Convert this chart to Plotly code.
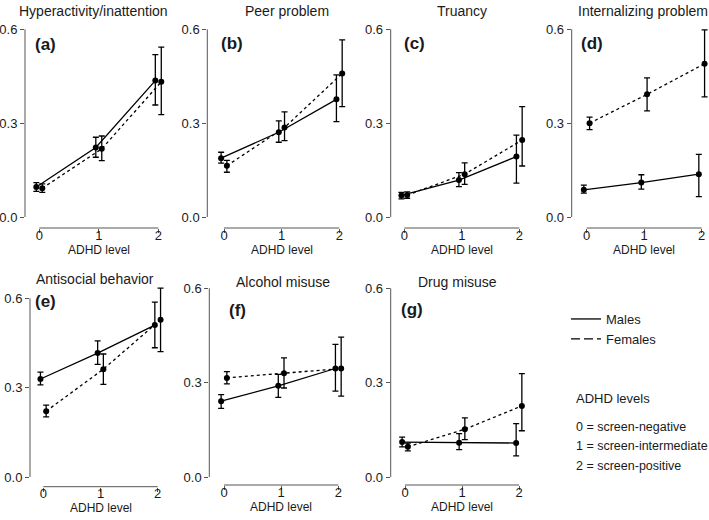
import plotly.graph_objects as go

W, H = 709, 520

# ---------------- data ----------------
levels = [0, 1, 2]
level_ticks = ["0", "1", "2"]
y_ticks = [0.0, 0.3, 0.6]
y_tick_labels = ["0.0", "0.3", "0.6"]

outcomes = ["Hyperactivity/inattention", "Peer problem", "Truancy", "Internalizing problem",
            "Antisocial behavior", "Alcohol misuse", "Drug misuse"]
tags = ["(a)", "(b)", "(c)", "(d)", "(e)", "(f)", "(g)"]

males_est = [[0.096, 0.222, 0.436], [0.188, 0.271, 0.376], [0.069, 0.118, 0.193],
             [0.087, 0.110, 0.137], [0.329, 0.416, 0.510], [0.241, 0.290, 0.345],
             [0.111, 0.109, 0.108]]
males_lo = [[0.082, 0.191, 0.358], [0.172, 0.239, 0.305], [0.058, 0.097, 0.108],
            [0.076, 0.089, 0.065], [0.309, 0.378, 0.434], [0.218, 0.253, 0.273],
            [0.096, 0.087, 0.067]]
males_hi = [[0.110, 0.255, 0.519], [0.207, 0.307, 0.454], [0.079, 0.142, 0.262],
            [0.102, 0.135, 0.200], [0.352, 0.457, 0.587], [0.262, 0.326, 0.422],
            [0.127, 0.138, 0.170]]
females_est = [[0.092, 0.218, 0.432], [0.164, 0.286, 0.459], [0.070, 0.137, 0.246],
               [0.300, 0.392, 0.490], [0.221, 0.362, 0.528], [0.315, 0.330, 0.345],
               [0.096, 0.152, 0.226]]
females_lo = [[0.079, 0.180, 0.327], [0.143, 0.244, 0.353], [0.060, 0.104, 0.163],
              [0.279, 0.339, 0.384], [0.202, 0.311, 0.421], [0.296, 0.283, 0.257],
              [0.083, 0.119, 0.147]]
females_hi = [[0.106, 0.259, 0.543], [0.181, 0.336, 0.566], [0.080, 0.173, 0.353],
              [0.319, 0.445, 0.598], [0.241, 0.413, 0.634], [0.335, 0.379, 0.445],
              [0.108, 0.188, 0.329]]

legend_labels = ["Males", "Females"]
level_notes = ["0 = screen-negative", "1 = screen-intermediate", "2 = screen-positive"]

# ---------------- layout geometry (pixels) ----------------
# yl: y-axis line x; x0/x2: pixel of x=0 / x=2; y0/y6: pixel of y=0 / 0.6; xb: x-axis line y
geom = [
    dict(yl=25.0, x0=39.3, x2=158.3, y0=217.0, y6=29.3, xb=228.0),
    dict(yl=207.3, x0=224.0, x2=339.3, y0=217.0, y6=29.3, xb=228.0),
    dict(yl=390.7, x0=404.3, x2=519.3, y0=217.0, y6=29.3, xb=228.0),
    dict(yl=571.7, x0=586.7, x2=701.7, y0=217.0, y6=29.3, xb=228.0),
    dict(yl=30.0, x0=43.3, x2=157.7, y0=477.0, y6=298.3, xb=486.7),
    dict(yl=209.3, x0=224.0, x2=338.3, y0=477.0, y6=288.3, xb=485.0),
    dict(yl=390.7, x0=405.0, x2=519.0, y0=477.0, y6=288.3, xb=485.0),
]
title_pos = [(93.7, 11), (286.7, 11), (462.3, 11), (642.8, 11),
             (95, 279), (283, 281.7), (457, 281.7)]
tag_pos = [(33.3, 44), (219.3, 43.3), (401.7, 43), (579, 43),
           (33.3, 301.7), (227.3, 310), (399.3, 309.3)]
xlab_y = [250.0, 250.0, 250.0, 250.0, 507.5, 506.5, 506.5]

FONT = "Liberation Sans, Arial, Helvetica, sans-serif"
AX_COL = "#555555"
TXT_COL = "#1a1a1a"
OFFSET = 0.05

def px(x):
    return x / W

def py(y):
    return 1 - y / H

fig = go.Figure()
layout = dict(width=W, height=H, autosize=False, margin=dict(l=0, r=0, t=0, b=0),
              plot_bgcolor="white", paper_bgcolor="white",
              font=dict(family=FONT, size=13, color=TXT_COL), showlegend=True)
annotations = []
shapes = []

for i in range(7):
    g = geom[i]
    u = (g["x2"] - g["x0"]) / 2.0
    v = (g["y0"] - g["y6"]) / 0.6
    left_pad = g["x0"] - g["yl"]
    right_pad = 7.0
    xr = [-left_pad / u, 2 + right_pad / u]
    dom_x = [px(g["yl"]), min(px(g["x2"] + right_pad), 1.0)]
    top_pad = 12.0
    yr = [-(g["xb"] - g["y0"]) / v, 0.6 + top_pad / v]
    dom_y = [py(g["xb"]), py(g["y6"] - top_pad)]

    n = i + 1
    xa = "xaxis" if n == 1 else f"xaxis{n}"
    ya = "yaxis" if n == 1 else f"yaxis{n}"
    xref = "x" if n == 1 else f"x{n}"
    yref = "y" if n == 1 else f"y{n}"

    layout[xa] = dict(domain=dom_x, range=xr, anchor=yref, showgrid=False, zeroline=False,
                      showline=False, tickmode="array", tickvals=levels, ticktext=level_ticks,
                      ticks="outside", ticklen=4, tickwidth=1, tickcolor=AX_COL,
                      ticklabelstandoff=-9,
                      tickfont=dict(size=13, color=TXT_COL, family=FONT), fixedrange=True)
    layout[ya] = dict(domain=dom_y, range=yr, anchor=xref, showgrid=False, zeroline=False,
                      showline=False, tickmode="array", tickvals=y_ticks, ticktext=y_tick_labels,
                      ticks="outside", ticklen=4, tickwidth=1, tickcolor=AX_COL,
                      tickfont=dict(size=13, color=TXT_COL, family=FONT), fixedrange=True)

    # R-style axis lines spanning only the tick range
    shapes.append(dict(type="line", xref=f"{xref} domain", yref=yref, x0=0, x1=0,
                       y0=y_ticks[0], y1=y_ticks[-1], line=dict(color=AX_COL, width=1)))
    shapes.append(dict(type="line", xref=xref, yref=f"{yref} domain", x0=levels[0], x1=levels[-1],
                       y0=0, y1=0, line=dict(color=AX_COL, width=1)))

    for est, lo, hi, off, dash in [(males_est[i], males_lo[i], males_hi[i], -OFFSET, "solid"),
                                    (females_est[i], females_lo[i], females_hi[i], OFFSET, "3px,3px")]:
        fig.add_trace(go.Scatter(
            x=[l + off for l in levels], y=est, xaxis=xref, yaxis=yref,
            mode="lines+markers", showlegend=False, hoverinfo="skip",
            line=dict(color="black", width=1.3, dash=dash),
            marker=dict(color="black", size=6),
            error_y=dict(type="data", symmetric=False,
                         array=[h - e for h, e in zip(hi, est)],
                         arrayminus=[e - l for e, l in zip(est, lo)],
                         color="black", thickness=1.3, width=3),
        ))

    annotations.append(dict(text=outcomes[i], x=px(title_pos[i][0]), y=py(title_pos[i][1]),
                            xref="paper", yref="paper", xanchor="center", yanchor="middle",
                            showarrow=False, font=dict(size=14, color=TXT_COL, family=FONT)))
    annotations.append(dict(text=f"<b>{tags[i]}</b>", x=px(tag_pos[i][0]), y=py(tag_pos[i][1]),
                            xref="paper", yref="paper", xanchor="left", yanchor="middle",
                            showarrow=False, font=dict(size=17, color=TXT_COL, family=FONT)))
    annotations.append(dict(text="ADHD level", x=1, y=py(xlab_y[i]), xref=xref, yref="paper",
                            xanchor="center", yanchor="middle", showarrow=False,
                            font=dict(size=12, color=TXT_COL, family=FONT)))

# legend entries (line keys only)
fig.add_trace(go.Scatter(x=[None], y=[None], mode="lines", name=legend_labels[0],
                         line=dict(color="black", width=1.3)))
fig.add_trace(go.Scatter(x=[None], y=[None], mode="lines", name=legend_labels[1],
                         line=dict(color="black", width=1.3, dash="9px,4px")))
layout["legend"] = dict(x=px(566), y=py(304), xanchor="left", yanchor="top",
                        bgcolor="rgba(0,0,0,0)", borderwidth=0,
                        font=dict(size=13, color=TXT_COL, family=FONT), tracegroupgap=0)

annotations.append(dict(text="ADHD levels", x=px(574), y=py(398), xref="paper", yref="paper",
                        xanchor="left", yanchor="middle", showarrow=False,
                        font=dict(size=13, color=TXT_COL, family=FONT)))
for k, note in enumerate(level_notes):
    annotations.append(dict(text=note, x=px(574), y=py(427 + 19.3 * k), xref="paper", yref="paper",
                            xanchor="left", yanchor="middle", showarrow=False,
                            font=dict(size=12.5, color=TXT_COL, family=FONT)))

layout["annotations"] = annotations
layout["shapes"] = shapes
fig.update_layout(**layout)
fig.write_html("out.html", config={"displayModeBar": False},
               post_script="document.body.style.margin='0px';")
